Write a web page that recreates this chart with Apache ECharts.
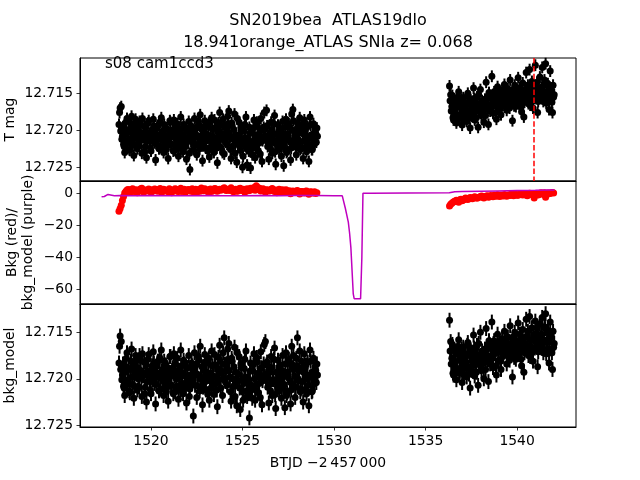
<!DOCTYPE html>
<html><head><meta charset="utf-8">
<script src="https://cdn.jsdelivr.net/npm/echarts@6/dist/echarts.min.js"></script>
<style>html,body{margin:0;padding:0;background:#fff}#c{width:640px;height:480px}</style>
</head><body><div id="c"></div>
<script>
// ---- data ----
// 30-min cadence photometry, stored as two interleaved sets per orbit (a: on the grid, b: half a step later)
const seg1Start = 1518.25, seg2Start = 1536.31, cadence = 0.0625;
const magErr = 0.0008;
const tmag1 = [
12.7192,12.7170,12.7168,12.7208,12.7219,12.7230,12.7199,12.7184,12.7213,12.7226,12.7202,12.7181,12.7218,12.7234,12.7206,12.7193,
12.7225,12.7214,12.7188,12.7203,12.7231,12.7210,12.7195,12.7222,12.7237,12.7204,12.7187,12.7213,12.7228,12.7199,12.7185,12.7217,
12.7240,12.7209,12.7194,12.7225,12.7211,12.7183,12.7202,12.7230,12.7216,12.7197,12.7221,12.7238,12.7207,12.7189,12.7219,12.7200,
12.7186,12.7227,12.7212,12.7191,12.7235,12.7205,12.7182,12.7218,12.7229,12.7196,12.7210,12.7239,12.7201,12.7188,12.7253,12.7215,
12.7198,12.7226,12.7184,12.7209,12.7233,12.7220,12.7193,12.7179,12.7214,12.7241,12.7203,12.7187,12.7224,12.7211,12.7195,12.7236,
12.7207,12.7183,12.7219,12.7230,12.7197,12.7212,12.7244,12.7190,12.7176,12.7223,12.7205,12.7185,12.7232,12.7216,12.7199,12.7181,
12.7174,12.7210,12.7238,12.7194,12.7221,12.7178,12.7206,12.7243,12.7215,12.7189,12.7227,12.7201,12.7250,12.7218,12.7192,12.7182,
12.7247,12.7213,12.7196,12.7251,12.7225,12.7204,12.7186,12.7237,12.7219,12.7195,12.7229,12.7208,12.7184,12.7242,12.7211,12.7176,
12.7198,12.7173,12.7222,12.7239,12.7205,12.7189,12.7231,12.7214,12.7180,12.7246,12.7217,12.7193,12.7226,12.7202,12.7235,12.7188,
12.7248,12.7209,12.7185,12.7228,12.7212,12.7196,12.7240,12.7178,12.7172,12.7219,12.7203,12.7233,12.7190,12.7215,12.7183,12.7224,
12.7201,12.7238,12.7186,12.7213,12.7229,12.7195,12.7242,12.7182,12.7210,12.7226,12.7191,12.7218,12.7204,12.7197
];
const tmag1b = [
12.7176,12.7201,12.7212,12.7195,12.7222,12.7205,12.7188,12.7216,12.7200,12.7227,12.7191,12.7210,12.7197,12.7220,12.7185,12.7207,
12.7199,12.7221,12.7192,12.7211,12.7184,12.7205,12.7229,12.7196,12.7215,12.7190,12.7208,12.7224,12.7201,12.7213,12.7194,12.7206,
12.7218,12.7197,12.7210,12.7189,12.7223,12.7204,12.7214,12.7192,12.7208,12.7226,12.7199,12.7212,12.7187,12.7219,12.7203,12.7228,
12.7209,12.7196,12.7220,12.7203,12.7211,12.7224,12.7198,12.7206,12.7192,12.7217,12.7222,12.7200,12.7213,12.7231,12.7208,12.7195,
12.7213,12.7202,12.7219,12.7196,12.7207,12.7188,12.7225,12.7210,12.7199,12.7221,12.7216,12.7194,12.7205,12.7228,12.7190,12.7214,
12.7222,12.7198,12.7209,12.7186,12.7217,12.7224,12.7201,12.7213,12.7193,12.7206,12.7230,12.7211,12.7196,12.7204,12.7219,12.7191,
12.7203,12.7226,12.7190,12.7212,12.7199,12.7231,12.7215,12.7184,12.7207,12.7222,12.7196,12.7213,12.7235,12.7201,12.7210,12.7225,
12.7215,12.7228,12.7204,12.7219,12.7233,12.7197,12.7212,12.7224,12.7189,12.7206,12.7217,12.7232,12.7200,12.7214,12.7196,12.7209,
12.7211,12.7194,12.7207,12.7218,12.7225,12.7200,12.7213,12.7191,12.7229,12.7205,12.7220,12.7209,12.7197,12.7215,12.7203,12.7222,
12.7218,12.7196,12.7230,12.7205,12.7191,12.7214,12.7224,12.7200,12.7187,12.7209,12.7221,12.7198,12.7212,12.7204,12.7226,12.7193,
12.7215,12.7202,12.7224,12.7197,12.7208,12.7219,12.7210,12.7193,12.7226,12.7205,12.7214,12.7199,12.7216,12.7208
];
const tmag2 = [
12.7140,12.7152,12.7168,12.7183,12.7159,12.7175,12.7190,12.7163,12.7148,12.7181,12.7170,12.7193,12.7156,12.7178,12.7165,12.7188,
12.7150,12.7184,12.7197,12.7161,12.7174,12.7143,12.7186,12.7167,12.7155,12.7196,12.7172,12.7145,12.7180,12.7162,12.7189,12.7158,
12.7135,12.7171,12.7192,12.7153,12.7166,12.7127,12.7177,12.7148,12.7160,12.7185,12.7141,12.7169,12.7154,12.7179,12.7146,12.7163,
12.7138,12.7157,12.7173,12.7144,12.7165,12.7132,12.7152,12.7187,12.7149,12.7139,12.7168,12.7155,12.7129,12.7160,12.7146,12.7175,
12.7136,12.7182,12.7151,12.7122,12.7143,12.7164,12.7118,12.7156,12.7134,12.7170,12.7148,12.7112,12.7140,12.7176,12.7153,12.7128,
12.7145,12.7115,12.7161,12.7132,12.7110,12.7150,12.7137,12.7172,12.7120,12.7143,12.7176,12.7155
];
const tmag2b = [
12.7160,12.7174,12.7153,12.7186,12.7171,12.7162,12.7179,12.7155,12.7184,12.7167,12.7158,12.7176,12.7185,12.7163,12.7172,12.7154,
12.7178,12.7165,12.7159,12.7181,12.7170,12.7157,12.7175,12.7183,12.7164,12.7152,12.7169,12.7177,12.7160,12.7173,12.7166,12.7180,
12.7158,12.7165,12.7149,12.7174,12.7157,12.7168,12.7152,12.7163,12.7176,12.7155,12.7161,12.7150,12.7171,12.7159,12.7166,12.7153,
12.7160,12.7149,12.7164,12.7156,12.7170,12.7152,12.7161,12.7145,12.7167,12.7158,12.7150,12.7163,12.7154,12.7142,12.7169,12.7157,
12.7151,12.7162,12.7145,12.7158,12.7139,12.7155,12.7166,12.7148,12.7160,12.7143,12.7157,12.7150,12.7135,12.7161,12.7147,12.7156,
12.7142,12.7157,12.7148,12.7136,12.7163,12.7151,12.7140,12.7158,12.7146,12.7162,12.7139,12.7152
];
const bkgMag1 = [
12.7183,12.7154,12.7160,12.7196,12.7208,12.7218,12.7187,12.7172,12.7201,12.7213,12.7190,12.7168,12.7206,12.7221,12.7194,12.7180,
12.7212,12.7200,12.7175,12.7191,12.7219,12.7197,12.7182,12.7209,12.7225,12.7192,12.7174,12.7203,12.7216,12.7186,12.7171,12.7205,
12.7227,12.7196,12.7181,12.7213,12.7199,12.7169,12.7190,12.7218,12.7204,12.7185,12.7209,12.7224,12.7194,12.7176,12.7207,12.7188,
12.7173,12.7214,12.7200,12.7178,12.7222,12.7193,12.7169,12.7205,12.7216,12.7184,12.7197,12.7226,12.7188,12.7175,12.7211,12.7202,
12.7186,12.7240,12.7172,12.7196,12.7220,12.7208,12.7180,12.7165,12.7201,12.7228,12.7190,12.7174,12.7212,12.7198,12.7183,12.7223,
12.7194,12.7170,12.7206,12.7217,12.7185,12.7199,12.7230,12.7177,12.7164,12.7210,12.7192,12.7172,12.7156,12.7203,12.7187,12.7168,
12.7162,12.7198,12.7224,12.7181,12.7208,12.7166,12.7193,12.7229,12.7202,12.7176,12.7233,12.7188,12.7214,12.7205,12.7179,12.7170,
12.7219,12.7200,12.7242,12.7183,12.7211,12.7191,12.7173,12.7223,12.7206,12.7182,12.7215,12.7195,12.7171,12.7228,12.7198,12.7163,
12.7160,12.7185,12.7209,12.7226,12.7192,12.7176,12.7218,12.7201,12.7167,12.7232,12.7204,12.7180,12.7213,12.7189,12.7221,12.7175,
12.7197,12.7231,12.7172,12.7215,12.7199,12.7183,12.7227,12.7165,12.7206,12.7190,12.7220,12.7178,12.7156,12.7202,12.7170,12.7211,
12.7188,12.7225,12.7173,12.7200,12.7216,12.7182,12.7229,12.7169,12.7197,12.7213,12.7178,12.7205,12.7191,12.7184
];
const bkgMag1b = [
12.7165,12.7190,12.7201,12.7184,12.7210,12.7193,12.7178,12.7204,12.7189,12.7215,12.7181,12.7198,12.7186,12.7208,12.7175,12.7195,
12.7188,12.7209,12.7180,12.7199,12.7173,12.7194,12.7216,12.7185,12.7203,12.7179,12.7196,12.7212,12.7190,12.7201,12.7183,12.7195,
12.7206,12.7186,12.7198,12.7177,12.7211,12.7192,12.7202,12.7181,12.7196,12.7214,12.7188,12.7200,12.7176,12.7207,12.7191,12.7216,
12.7197,12.7184,12.7208,12.7191,12.7199,12.7212,12.7186,12.7194,12.7180,12.7205,12.7210,12.7188,12.7201,12.7219,12.7196,12.7183,
12.7201,12.7190,12.7207,12.7184,12.7195,12.7176,12.7213,12.7198,12.7187,12.7209,12.7204,12.7182,12.7193,12.7216,12.7178,12.7202,
12.7210,12.7186,12.7197,12.7174,12.7205,12.7212,12.7189,12.7201,12.7181,12.7194,12.7218,12.7199,12.7184,12.7192,12.7207,12.7179,
12.7191,12.7214,12.7178,12.7200,12.7187,12.7219,12.7203,12.7172,12.7195,12.7210,12.7184,12.7201,12.7223,12.7189,12.7198,12.7213,
12.7203,12.7216,12.7192,12.7207,12.7221,12.7185,12.7200,12.7212,12.7177,12.7194,12.7205,12.7220,12.7188,12.7202,12.7184,12.7197,
12.7199,12.7182,12.7195,12.7206,12.7213,12.7188,12.7201,12.7179,12.7217,12.7193,12.7208,12.7197,12.7185,12.7203,12.7191,12.7210,
12.7206,12.7184,12.7218,12.7193,12.7179,12.7202,12.7212,12.7188,12.7175,12.7197,12.7209,12.7186,12.7200,12.7192,12.7214,12.7181,
12.7203,12.7190,12.7212,12.7185,12.7196,12.7207,12.7198,12.7181,12.7214,12.7193,12.7202,12.7187,12.7204,12.7196
];
const bkgMag2 = [
12.7137,12.7160,12.7178,12.7194,12.7169,12.7186,12.7201,12.7173,12.7158,12.7192,12.7181,12.7204,12.7166,12.7189,12.7176,12.7198,
12.7161,12.7195,12.7210,12.7171,12.7185,12.7153,12.7197,12.7178,12.7164,12.7207,12.7183,12.7150,12.7191,12.7173,12.7200,12.7168,
12.7146,12.7182,12.7203,12.7163,12.7177,12.7139,12.7188,12.7159,12.7171,12.7196,12.7152,12.7180,12.7165,12.7190,12.7157,12.7174,
12.7149,12.7168,12.7184,12.7155,12.7176,12.7143,12.7163,12.7198,12.7160,12.7150,12.7179,12.7166,12.7140,12.7171,12.7157,12.7186,
12.7147,12.7193,12.7162,12.7136,12.7154,12.7175,12.7133,12.7167,12.7145,12.7181,12.7159,12.7138,12.7151,12.7187,12.7164,12.7141,
12.7156,12.7134,12.7172,12.7144,12.7130,12.7161,12.7148,12.7183,12.7139,12.7154,12.7190,12.7166
];
const bkgMag2b = [
12.7170,12.7184,12.7163,12.7196,12.7181,12.7172,12.7189,12.7165,12.7194,12.7177,12.7168,12.7186,12.7195,12.7173,12.7182,12.7164,
12.7188,12.7175,12.7169,12.7191,12.7180,12.7167,12.7185,12.7193,12.7174,12.7162,12.7179,12.7187,12.7170,12.7183,12.7176,12.7190,
12.7168,12.7175,12.7159,12.7184,12.7167,12.7178,12.7162,12.7173,12.7186,12.7165,12.7171,12.7160,12.7181,12.7169,12.7176,12.7163,
12.7170,12.7159,12.7174,12.7166,12.7180,12.7162,12.7171,12.7155,12.7177,12.7168,12.7160,12.7173,12.7164,12.7152,12.7179,12.7167,
12.7161,12.7172,12.7155,12.7168,12.7149,12.7165,12.7176,12.7158,12.7170,12.7153,12.7167,12.7160,12.7145,12.7171,12.7157,12.7166,
12.7152,12.7167,12.7158,12.7146,12.7173,12.7161,12.7150,12.7168,12.7156,12.7172,12.7149,12.7162
];
const bkgCadence = 0.125;
const bkgRed1 = [
-11.2,-7.5,-2.0,1.2,2.4,0.8,2.9,1.6,0.3,2.2,3.1,1.0,1.9,2.7,0.6,1.8,
2.5,1.3,3.0,0.9,2.1,1.5,2.8,0.4,1.7,2.6,1.1,3.2,2.0,0.7,2.3,1.4,
2.9,1.2,0.5,2.4,3.3,1.6,2.1,0.8,2.7,1.9,3.0,1.3,2.5,2.4,3.4,1.8,
2.2,3.5,0.9,2.6,1.5,3.1,2.0,0.6,2.8,1.7,2.3,3.6,4.8,2.4,1.4,2.9,
0.7,2.1,1.6,3.0,1.2,0.4,2.5,1.9,0.8,2.2,1.0,-0.3,1.5,0.6,1.8,-0.5,
1.1,0.2,1.4,-0.6,0.9,0.3,-0.2
];
const bkgRed1b = [
-9.5,-4.5,0.2,2.0,1.4,2.6,1.1,2.3,1.8,2.9,0.9,2.1,1.5,2.4,1.2,2.7,
1.6,2.2,0.8,2.5,1.9,1.0,2.3,1.7,2.8,1.3,2.0,1.1,2.6,1.8,2.4,1.5,
1.0,2.5,1.9,1.3,2.2,2.8,1.5,2.4,1.1,2.7,1.6,2.3,1.9,3.0,2.1,2.6,
1.7,2.4,2.0,1.3,2.9,1.8,2.5,2.2,1.6,3.1,2.7,1.9,3.8,3.2,2.0,1.5,
2.3,1.4,2.6,1.8,2.1,1.5,1.0,2.2,1.7,0.9,1.6,1.2,0.7,1.4,0.3,1.1,
0.5,1.3,0.1,0.8,0.2,1.0,0.4
];
const bkgRed2 = [
-8.0,-6.3,-5.1,-4.4,-5.6,-3.8,-4.2,-3.0,-3.9,-2.6,-3.4,-2.1,-3.1,-2.4,-1.7,-2.9,
-1.9,-2.5,-1.3,-2.2,-1.6,-0.9,-2.0,-1.4,-0.8,-1.8,-1.1,-0.5,-1.5,-0.7,-1.2,-0.2,
-1.0,-0.4,-1.6,0.1,-0.6,-2.9,-0.3,-0.9,0.4,-0.5,-2.5,0.2,-0.1,0.5
];
const bkgRed2b = [
-6.8,-5.6,-4.8,-4.9,-4.0,-4.6,-3.5,-3.6,-3.2,-3.0,-2.8,-2.6,-2.7,-2.0,-2.3,-2.2,
-1.6,-2.1,-1.8,-1.2,-1.9,-1.5,-1.1,-1.7,-1.3,-1.0,-1.4,-0.9,-0.6,-1.2,-0.8,-0.5,
-0.7,-1.1,-0.3,-0.8,-0.2,-0.6,-1.0,-0.1,-0.4,0.3,-0.7,0.0,0.4,0.2
];
const bkgModelT = [1517.30,1517.45,1517.55,1517.65,1517.75,1518.0,1518.3,1519,1520,1521,1522,1523,1524,1525,1526,1527,1528,1529,1530.0,1530.45,1530.55,1530.62,1530.70,1530.78,1530.85,1530.92,1530.98,1531.05,1531.10,1531.45,1531.52,1531.58,1532,1534,1536.3,1536.6,1537,1538,1539,1540,1541,1541.7,1542.05];
const bkgModelV = [-2.2,-2.0,-0.8,-0.7,-1.5,-1.5,-1.4,-1.5,-1.4,-1.6,-1.5,-1.4,-1.6,-1.5,-1.4,-1.5,-1.3,-1.4,-1.5,-1.6,-2.5,-9.5,-10.5,-18,-25,-34,-35,-63,-66,-66,-40,0.1,0.1,0.2,0.3,1.0,1.1,1.3,1.5,1.7,1.9,2.1,2.0];
const xTicks = [1520,1525,1530,1535,1540];
const magTicks = [12.715,12.720,12.725];
const bkgTicks = [0,-20,-40,-60];
const flareT = 1540.93;
const titleLines = ['SN2019bea  ATLAS19dlo','18.941orange_ATLAS SNIa z= 0.068'];
const annot = 's08 cam1ccd3';
const xName = 'BTJD \u22122\u2009457\u2009000';

// ---- build ----
function series(start, step, vals){ return vals.map((v,i)=>[+(start+i*step).toFixed(5), v]); }
const topPts = [].concat(series(seg1Start,cadence,tmag1), series(seg1Start+cadence/2,cadence,tmag1b),
                         series(seg2Start,cadence,tmag2), series(seg2Start+cadence/2,cadence,tmag2b));
const botPts = [].concat(series(seg1Start,cadence,bkgMag1), series(seg1Start+cadence/2,cadence,bkgMag1b),
                         series(seg2Start,cadence,bkgMag2), series(seg2Start+cadence/2,cadence,bkgMag2b));
const redPts = [].concat(series(seg1Start,bkgCadence,bkgRed1), series(seg1Start+bkgCadence/2,bkgCadence,bkgRed1b),
                         series(seg2Start,bkgCadence,bkgRed2), series(seg2Start+bkgCadence/2,bkgCadence,bkgRed2b));
const modelPts = bkgModelT.map((t,i)=>[t,bkgModelV[i]]);

const FONT = 'DejaVu Sans';
const XMIN = 1516.12, XMAX = 1543.22;
const L = 80, W = 496, H = 123, tops = [58,181,304];
const minus = v => (v<0 ? '\u2212'+Math.abs(v) : String(v));

function errSeries(pts, ax){
  return {type:'custom', xAxisIndex:ax, yAxisIndex:ax, silent:true, z:2,
    data: pts.map(p=>[p[0],p[1],magErr]),
    encode:{x:0,y:1},
    renderItem:function(params, api){
      const t=api.value(0), y=api.value(1), e=api.value(2);
      const a=api.coord([t,y-e]), b=api.coord([t,y+e]);
      return {type:'line', shape:{x1:a[0],y1:a[1],x2:b[0],y2:b[1]}, style:{stroke:'#000',lineWidth:2}};
    }};
}
function yAxis(i, min, max, inverse, ticks, fmt){
  return {type:'value', gridIndex:i, min:min, max:max, inverse:inverse, scale:true,
    axisLine:{show:true, lineStyle:{color:'#000',width:1}},
    axisTick:{show:true, length:3.5, inside:false, customValues:ticks, lineStyle:{color:'#000',width:0.8}},
    axisLabel:{show:true, customValues:ticks, formatter:fmt, margin:7, color:'#000', fontFamily:FONT, fontSize:13.9},
    splitLine:{show:false}};
}
function xAxis(i, labels){
  return {type:'value', gridIndex:i, min:XMIN, max:XMAX,
    axisLine:{show:true, onZero:false, lineStyle:{color:'#000',width:1}},
    axisTick:{show:labels, length:3.5, inside:false, customValues:xTicks, lineStyle:{color:'#000',width:0.8}},
    axisLabel:{show:labels, customValues:xTicks, margin:7, color:'#000', fontFamily:FONT, fontSize:13.9, formatter:v=>String(v)},
    splitLine:{show:false}};
}

const chart = echarts.init(document.getElementById('c'), null, {renderer:'canvas'});
chart.setOption({
  animation:false,
  backgroundColor:'#fff',
  grid: tops.map(t=>({left:L, top:t, width:W, height:H, show:true, borderColor:'#000', borderWidth:1, backgroundColor:'transparent'})),
  xAxis:[xAxis(0,false), xAxis(1,false), xAxis(2,true)],
  yAxis:[
    yAxis(0, 12.71023, 12.72685, true, magTicks, v=>v.toFixed(3)),
    yAxis(1, -69.3, 7.7, false, bkgTicks, minus),
    yAxis(2, 12.71196, 12.72518, true, magTicks, v=>v.toFixed(3))
  ],
  series:[
    errSeries(topPts,0),
    {type:'scatter', xAxisIndex:0, yAxisIndex:0, data:topPts, symbol:'circle', symbolSize:7, itemStyle:{color:'#000', opacity:1}, z:3, silent:true, large:false,
     markLine:{silent:true, symbol:'none', animation:false, label:{show:false},
       lineStyle:{color:'#ff0000', type:[5.5,2.4], width:1.5, opacity:1}, data:[{xAxis:flareT}]}},
    {type:'scatter', xAxisIndex:1, yAxisIndex:1, data:redPts, symbol:'circle', symbolSize:7, itemStyle:{color:'#ff0000', opacity:1}, z:2, silent:true},
    {type:'line', xAxisIndex:1, yAxisIndex:1, data:modelPts, showSymbol:false, lineStyle:{color:'#bf00bf', width:1.5, opacity:1}, itemStyle:{color:'#bf00bf'}, z:3, silent:true},
    errSeries(botPts,2),
    {type:'scatter', xAxisIndex:2, yAxisIndex:2, data:botPts, symbol:'circle', symbolSize:7, itemStyle:{color:'#000', opacity:1}, z:3, silent:true, large:false}
  ],
  graphic:[
    {type:'text', x:328, y:21, style:{text:titleLines[0], fontFamily:FONT, fontSize:16, fill:'#000', align:'center', verticalAlign:'middle'}},
    {type:'text', x:328, y:43, style:{text:titleLines[1], fontFamily:FONT, fontSize:16, fill:'#000', align:'center', verticalAlign:'middle'}},
    {type:'text', x:105, y:64, style:{text:annot, fontFamily:FONT, fontSize:15, fill:'#000', align:'left', verticalAlign:'middle'}},
    {type:'text', x:328, y:463, style:{text:xName, fontFamily:FONT, fontSize:13.9, fill:'#000', align:'center', verticalAlign:'middle'}},
    {type:'text', x:10, y:119.5, rotation:Math.PI/2, style:{text:'T mag', fontFamily:FONT, fontSize:13.9, fill:'#000', align:'center', verticalAlign:'middle'}},
    {type:'text', x:12, y:242.5, rotation:Math.PI/2, style:{text:'Bkg (red)/', fontFamily:FONT, fontSize:13.9, fill:'#000', align:'center', verticalAlign:'middle'}},
    {type:'text', x:28, y:242.5, rotation:Math.PI/2, style:{text:'bkg_model (purple)', fontFamily:FONT, fontSize:13.9, fill:'#000', align:'center', verticalAlign:'middle'}},
    {type:'text', x:10, y:365.5, rotation:Math.PI/2, style:{text:'bkg_model', fontFamily:FONT, fontSize:13.9, fill:'#000', align:'center', verticalAlign:'middle'}}
  ]
});
</script>
</body></html>
